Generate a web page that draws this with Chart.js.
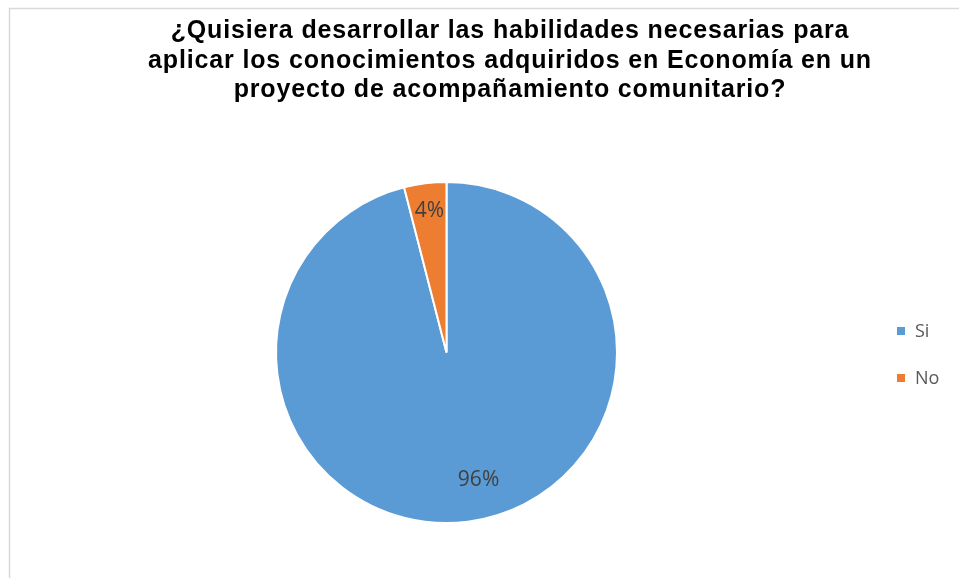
<!DOCTYPE html>
<html>
<head>
<meta charset="utf-8">
<script src="https://cdn.jsdelivr.net/npm/chart.js@4.4.1/dist/chart.umd.min.js"></script>
<style>
  html, body { margin: 0; padding: 0; background: #fff; }
  #wrap { width: 959px; height: 578px; position: relative; }
</style>
</head>
<body>
<div id="wrap"><canvas id="pieChart" width="959" height="578"></canvas></div>
<script>
'use strict';

// Data
var categories = ['Si', 'No'];
var values = [96, 4];
var sliceColors = ['#5B9BD5', '#ED7D31'];
var titleLines = [
  '¿Quisiera desarrollar las habilidades necesarias para',
  'aplicar los conocimientos adquiridos en Economía en un',
  'proyecto de acompañamiento comunitario?'
];

var TITLE_FONT = 'bold 25px "Liberation Sans"';
var LABEL_FONT = '21px "Open Sans"';
var LEGEND_FONT = '18px "Open Sans"';

// frame, title, labels and legend drawn on top of the chart
var decorPlugin = {
  id: 'decor',
  beforeDraw: function(chart) {
    var ctx = chart.ctx;
    ctx.save();
    ctx.fillStyle = '#fff';
    ctx.fillRect(0, 0, chart.width, chart.height);
    ctx.strokeStyle = '#d9d9d9';
    ctx.lineWidth = 1.5;
    ctx.strokeRect(9.5, 8.5, chart.width + 20, chart.height + 20);
    ctx.restore();
  },
  afterDraw: function(chart) {
    var ctx = chart.ctx;
    ctx.save();

    // title (Excel renders it wider than Liberation Sans, so add some tracking)
    ctx.fillStyle = '#000';
    ctx.font = TITLE_FONT + ', Arial, sans-serif';
    ctx.textAlign = 'left';
    ctx.textBaseline = 'alphabetic';
    if ('letterSpacing' in ctx) ctx.letterSpacing = '0.85px';
    titleLines.forEach(function(line, i) {
      var w = ctx.measureText(line).width;
      ctx.fillText(line, 510 - w / 2, 38 + i * 29.5);
    });
    if ('letterSpacing' in ctx) ctx.letterSpacing = '0px';

    // percentage labels (offsets from pie centre, in radii, like Excel's placement)
    var total = values.reduce(function(a, b) { return a + b; }, 0);
    var offs = [[0.188, 0.745], [-0.1, -0.83]];
    var meta = chart.getDatasetMeta(0);
    ctx.font = LABEL_FONT + ', sans-serif';
    ctx.fillStyle = '#404040';
    ctx.textAlign = 'center';
    ctx.textBaseline = 'middle';
    meta.data.forEach(function(arc, i) {
      var p = arc.getProps(['x', 'y', 'outerRadius'], true);
      var pct = Math.round(values[i] / total * 100) + '%';
      ctx.fillText(pct, p.x + offs[i][0] * p.outerRadius, p.y + offs[i][1] * p.outerRadius);
    });

    // legend
    ctx.font = LEGEND_FONT + ', sans-serif';
    ctx.textAlign = 'left';
    categories.forEach(function(c, i) {
      var y = 331 + i * 47;
      ctx.fillStyle = sliceColors[i];
      ctx.fillRect(897, y - 4, 8, 8);
      ctx.fillStyle = '#595959';
      ctx.fillText(c, 915, y + 1);
    });

    ctx.restore();
  }
};

function buildChart() {
  var ctx = document.getElementById('pieChart');
  return new Chart(ctx, {
    type: 'pie',
    data: {
      labels: categories,
      datasets: [{
        data: values,
        backgroundColor: sliceColors,
        borderColor: '#fff',
        borderWidth: 2
      }]
    },
    options: {
      responsive: false,
      animation: false,
      layout: { padding: { left: 275, top: 181, right: 341, bottom: 54 } },
      plugins: {
        legend: { display: false },
        title: { display: false },
        tooltip: { enabled: false }
      }
    },
    plugins: [decorPlugin]
  });
}

var pieChart = null;
Promise.all([
  document.fonts.load(TITLE_FONT),
  document.fonts.load(LABEL_FONT),
  document.fonts.load(LEGEND_FONT)
]).catch(function() {}).then(function() {
  pieChart = buildChart();
});
</script>
</body>
</html>
